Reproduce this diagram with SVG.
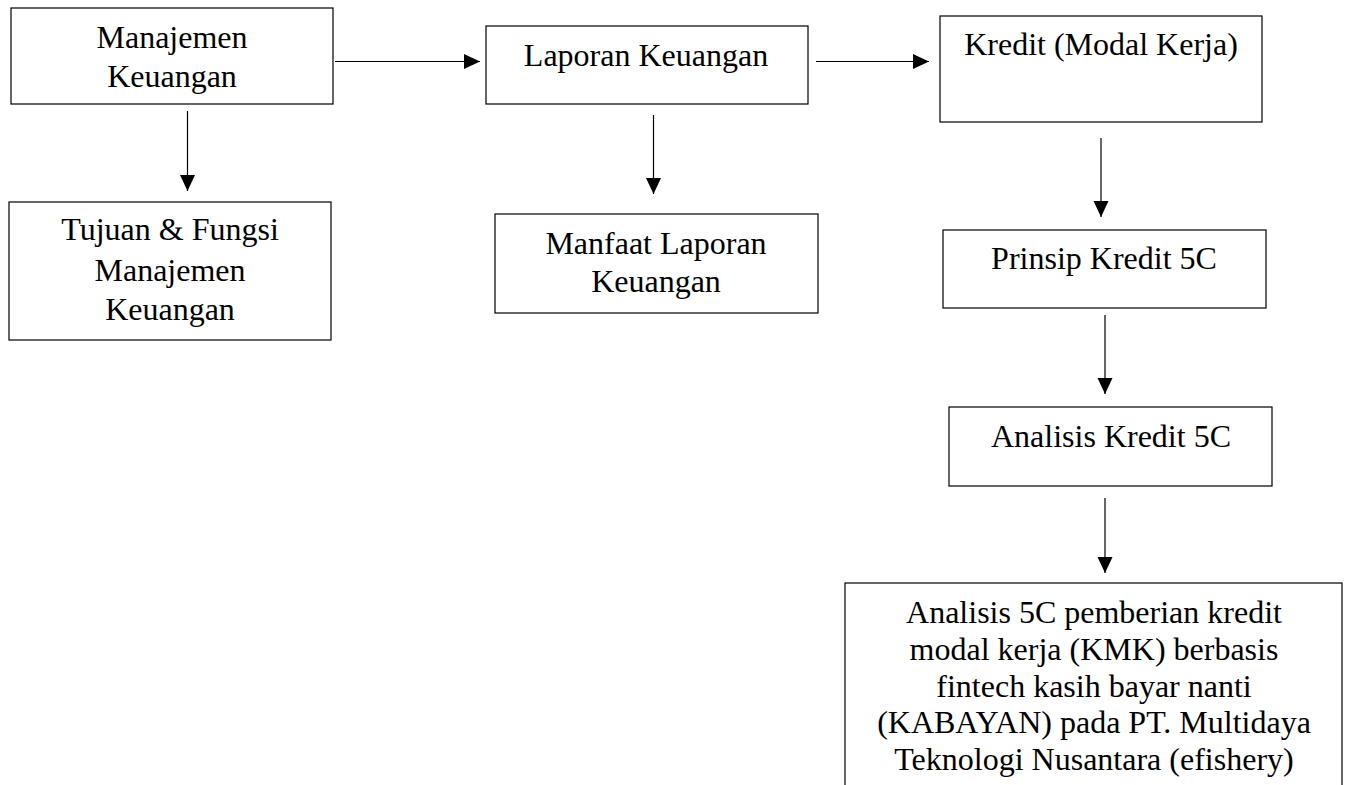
<svg xmlns="http://www.w3.org/2000/svg" width="1348" height="785" viewBox="0 0 1348 785">
<style>
.box{fill:#fff;stroke:#000;stroke-width:1.2}
.t{font-family:"Liberation Serif","Times New Roman",serif;font-size:32px;fill:#000;text-anchor:middle}
.c{stroke:#000;stroke-width:1.2;fill:none;marker-end:url(#ah)}
</style>
<defs>
<marker id="ah" markerUnits="userSpaceOnUse" markerWidth="16" markerHeight="16" refX="16" refY="7.5" orient="auto">
<path d="M0,0 L16,7.5 L0,15 Z" fill="#000"/>
</marker>
</defs>
<rect width="1348" height="785" fill="#fff"/>
<g id="connectors">
<line class="c" x1="335" y1="61.5" x2="480" y2="61.5"/>
<line class="c" x1="816" y1="61.5" x2="929" y2="61.5"/>
<line class="c" x1="187.5" y1="111" x2="187.5" y2="191"/>
<line class="c" x1="653.5" y1="115" x2="653.5" y2="194"/>
<line class="c" x1="1101" y1="138" x2="1101" y2="217"/>
<line class="c" x1="1105" y1="315" x2="1105" y2="394"/>
<line class="c" x1="1105" y1="498" x2="1105" y2="573"/>
</g>
<g id="n1">
<rect class="box" x="11" y="8" width="322" height="96"/>
<text class="t" x="172" y="48">Manajemen</text>
<text class="t" x="172" y="87">Keuangan</text>
</g>
<g id="n2">
<rect class="box" x="9" y="202" width="322" height="138"/>
<text class="t" x="170" y="240">Tujuan &amp; Fungsi</text>
<text class="t" x="170" y="281">Manajemen</text>
<text class="t" x="170" y="320">Keuangan</text>
</g>
<g id="n3">
<rect class="box" x="486" y="26" width="322" height="78"/>
<text class="t" x="646" y="66">Laporan Keuangan</text>
</g>
<g id="n4">
<rect class="box" x="495" y="214" width="323" height="99"/>
<text class="t" x="656" y="254">Manfaat Laporan</text>
<text class="t" x="656" y="292">Keuangan</text>
</g>
<g id="n5">
<rect class="box" x="940" y="16" width="322" height="106"/>
<text class="t" x="1101" y="55">Kredit (Modal Kerja)</text>
</g>
<g id="n6">
<rect class="box" x="943" y="230" width="323" height="78"/>
<text class="t" x="1104" y="269">Prinsip Kredit 5C</text>
</g>
<g id="n7">
<rect class="box" x="949" y="407" width="323" height="79"/>
<text class="t" x="1111" y="447">Analisis Kredit 5C</text>
</g>
<g id="n8">
<rect class="box" x="845" y="583" width="497" height="220"/>
<text class="t" x="1094" y="623">Analisis 5C pemberian kredit</text>
<text class="t" x="1094" y="660">modal kerja (KMK) berbasis</text>
<text class="t" x="1094" y="697">fintech kasih bayar nanti</text>
<text class="t" x="1094" y="733">(KABAYAN) pada PT. Multidaya</text>
<text class="t" x="1094" y="770">Teknologi Nusantara (efishery)</text>
</g>
</svg>
